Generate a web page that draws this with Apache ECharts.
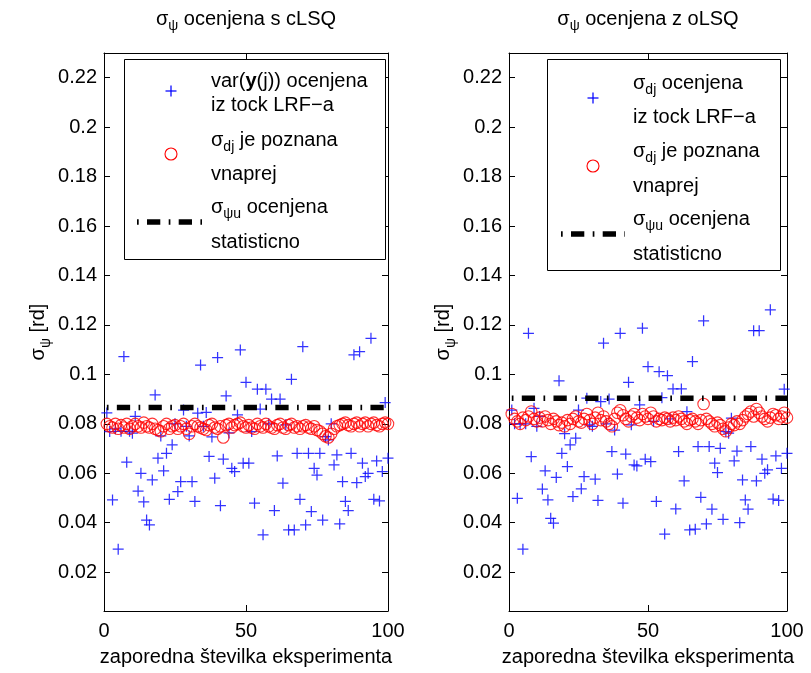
<!DOCTYPE html>
<html><head><meta charset="utf-8">
<script src="https://cdn.jsdelivr.net/npm/echarts@6/dist/echarts.min.js"></script>
<style>html,body{margin:0;padding:0;background:#fff}#c{width:811px;height:673px}</style>
</head><body><div id="c"></div>
<script>
const FONT = '"Liberation Sans", Arial, Helvetica, sans-serif';
const FS = 20;

const experiment = [1,2,3,4,5,6,7,8,9,10,11,12,13,14,15,16,17,18,19,20,
 21,22,23,24,25,26,27,28,29,30,31,32,33,34,35,36,37,38,39,40,
 41,42,43,44,45,46,47,48,49,50,51,52,53,54,55,56,57,58,59,60,
 61,62,63,64,65,66,67,68,69,70,71,72,73,74,75,76,77,78,79,80,
 81,82,83,84,85,86,87,88,89,90,91,92,93,94,95,96,97,98,99,100];
const xTicks = [0, 50, 100];
const yTicks = [0.02,0.04,0.06,0.08,0.1,0.12,0.14,0.16,0.18,0.2,0.22];

const blueLeft = [0.0844,0.0769,0.0492,0.0780,0.0293,0.0770,0.1072,0.0645,0.0770,0.0762,
 0.0830,0.0528,0.0600,0.0484,0.0411,0.0391,0.0573,0.0917,0.0661,0.0751,
 0.0610,0.0681,0.0495,0.0715,0.0800,0.0526,0.0566,0.0856,0.0790,0.0751,
 0.0566,0.0486,0.0843,0.1038,0.0790,0.0846,0.0668,0.0747,0.0580,0.1068,
 0.0469,0.0657,0.0913,0.0763,0.0620,0.0607,0.0836,0.1099,0.0641,0.0968,
 0.0641,0.0769,0.0479,0.0940,0.0860,0.0351,0.0940,0.0800,0.0900,0.0449,
 0.0670,0.0900,0.0560,0.0796,0.0371,0.0980,0.0371,0.0681,0.0495,0.1112,
 0.0391,0.0681,0.0445,0.0620,0.0593,0.0681,0.0411,0.0748,0.0735,0.0800,
 0.0634,0.0674,0.0395,0.0566,0.0486,0.0449,0.0681,0.1079,0.0562,0.1092,
 0.0641,0.0587,0.0600,0.1146,0.0495,0.0650,0.0488,0.0607,0.0886,0.0661];
const redLeft = [0.0800,0.0790,0.0785,0.0800,0.0780,0.0795,0.0785,0.0800,0.0780,0.0790,
 0.0800,0.0790,0.0785,0.0805,0.0790,0.0785,0.0800,0.0780,0.0775,0.0770,
 0.0790,0.0800,0.0780,0.0790,0.0795,0.0780,0.0790,0.0800,0.0780,0.0760,
 0.0790,0.0800,0.0790,0.0785,0.0780,0.0775,0.0795,0.0800,0.0785,0.0780,
 0.0790,0.0745,0.0795,0.0800,0.0785,0.0795,0.0800,0.0805,0.0790,0.0785,
 0.0795,0.0785,0.0780,0.0800,0.0790,0.0785,0.0800,0.0790,0.0785,0.0780,
 0.0795,0.0800,0.0785,0.0780,0.0795,0.0800,0.0785,0.0790,0.0780,0.0790,
 0.0795,0.0785,0.0780,0.0790,0.0775,0.0770,0.0760,0.0750,0.0745,0.0760,
 0.0780,0.0790,0.0795,0.0800,0.0805,0.0795,0.0790,0.0800,0.0805,0.0790,
 0.0800,0.0805,0.0790,0.0800,0.0805,0.0795,0.0790,0.0800,0.0805,0.0800];
const sigmaLeft = 0.0866;

const blueRight = [0.0856,0.0800,0.0499,0.0800,0.0293,0.0800,0.1166,0.0667,0.0863,0.0790,
 0.0830,0.0536,0.0610,0.0492,0.0418,0.0398,0.0583,0.0974,0.0681,0.0760,
 0.0627,0.0715,0.0506,0.0742,0.0856,0.0537,0.0587,0.0904,0.0796,0.0790,
 0.0576,0.0490,0.0890,0.1126,0.0800,0.0900,0.0688,0.0775,0.0597,0.1166,
 0.0479,0.0678,0.0968,0.0796,0.0634,0.0630,0.0877,0.1187,0.0657,0.1031,
 0.0647,0.0810,0.0486,0.1011,0.0906,0.0354,0.0995,0.0820,0.0941,0.0456,
 0.0688,0.0941,0.0569,0.0849,0.0371,0.1052,0.0374,0.0708,0.0503,0.1217,
 0.0395,0.0708,0.0455,0.0641,0.0603,0.0701,0.0414,0.0769,0.0762,0.0823,
 0.0650,0.0690,0.0400,0.0573,0.0492,0.0455,0.0708,0.1177,0.0569,0.1177,
 0.0657,0.0600,0.0614,0.1261,0.0496,0.0670,0.0490,0.0620,0.0940,0.0681];
const redRight = [0.0840,0.0820,0.0810,0.0800,0.0825,0.0815,0.0830,0.0850,0.0820,0.0810,
 0.0825,0.0810,0.0830,0.0815,0.0800,0.0820,0.0810,0.0795,0.0805,0.0790,
 0.0815,0.0800,0.0820,0.0830,0.0810,0.0805,0.0820,0.0840,0.0815,0.0800,
 0.0825,0.0845,0.0815,0.0830,0.0810,0.0800,0.0790,0.0820,0.0845,0.0855,
 0.0835,0.0820,0.0810,0.0830,0.0840,0.0825,0.0815,0.0840,0.0830,0.0820,
 0.0845,0.0830,0.0810,0.0820,0.0815,0.0825,0.0820,0.0810,0.0825,0.0815,
 0.0830,0.0820,0.0810,0.0800,0.0815,0.0820,0.0810,0.0800,0.0815,0.0880,
 0.0820,0.0810,0.0800,0.0790,0.0805,0.0795,0.0780,0.0770,0.0785,0.0800,
 0.0795,0.0810,0.0800,0.0815,0.0830,0.0840,0.0850,0.0830,0.0860,0.0845,
 0.0830,0.0820,0.0810,0.0825,0.0840,0.0835,0.0820,0.0830,0.0845,0.0825];
const sigmaRight = 0.0904;

const CROSS = 'path://M0,5L10,5M5,0L5,10';
const DASHDOT = [1.7, 8.3, 13.3, 8.4];

function pairs(ys) { return ys.map((v, i) => [experiment[i], v]); }

const chart = echarts.init(document.getElementById('c'), null, {renderer: 'canvas'});

const axisLineStyle = {lineStyle: {color: '#000', width: 1}};
const labelStyle = {color: '#000', fontSize: FS, fontFamily: FONT};
const subRich = {
  n: {fontSize: FS, fontFamily: FONT, color: '#000'},
  s: {fontSize: 14, fontFamily: FONT, color: '#000', padding: [15, 0, 0, 0]}
};

function xAxes(grid) {
  return [
    {gridIndex: grid, type: 'value', min: xTicks[0], max: xTicks[2], interval: 50, position: 'bottom',
     axisLine: Object.assign({onZero: false}, axisLineStyle),
     axisTick: {inside: true, length: 6, lineStyle: {color: '#000'}},
     axisLabel: Object.assign({margin: 10}, labelStyle),
     splitLine: {show: false},
     name: 'zaporedna številka eksperimenta', nameLocation: 'middle', nameGap: 36,
     nameTextStyle: labelStyle},
    {gridIndex: grid, type: 'value', min: xTicks[0], max: xTicks[2], interval: 50, position: 'top',
     axisLine: Object.assign({onZero: false}, axisLineStyle),
     axisTick: {inside: true, length: 6, lineStyle: {color: '#000'}},
     axisLabel: {show: false}, splitLine: {show: false}}
  ];
}
function yAxes(grid) {
  return [
    {gridIndex: grid, type: 'value', min: 0.0043, max: 0.23, position: 'left',
     axisLine: Object.assign({onZero: false}, axisLineStyle),
     axisTick: {inside: true, length: 6, lineStyle: {color: '#000'}, customValues: yTicks},
     axisLabel: Object.assign({margin: 7, customValues: yTicks,
       formatter: v => String(+(+v).toFixed(2))}, labelStyle),
     splitLine: {show: false},
     name: '{n|σ}{s|ψ}{n| [rd]}', nameLocation: 'middle', nameGap: 51, nameRotate: 90,
     nameTextStyle: {rich: subRich}},
    {gridIndex: grid, type: 'value', min: 0.0043, max: 0.23, position: 'right',
     axisLine: Object.assign({onZero: false}, axisLineStyle),
     axisTick: {inside: true, length: 6, lineStyle: {color: '#000'}, customValues: yTicks},
     axisLabel: {show: false}, splitLine: {show: false}}
  ];
}

function seriesFor(xi, yi, blue, red, sigma) {
  return [
    {type: 'scatter', xAxisIndex: xi, yAxisIndex: yi, data: pairs(blue), symbol: CROSS, symbolSize: 11,
     itemStyle: {color: 'rgba(0,0,0,0)', borderColor: '#0000ff', borderWidth: 1.25}, silent: true, z: 2},
    {type: 'scatter', xAxisIndex: xi, yAxisIndex: yi, data: pairs(red), symbol: 'circle', symbolSize: 11.5,
     itemStyle: {color: 'rgba(0,0,0,0)', borderColor: '#ff0000', borderWidth: 1.1}, silent: true, z: 3},
    {type: 'line', xAxisIndex: xi, yAxisIndex: yi,
     data: [[experiment[0], sigma], [experiment[experiment.length - 1], sigma]],
     symbol: 'none', silent: true, z: 4,
     lineStyle: {color: '#000', width: 5.5, type: DASHDOT, cap: 'butt'}}
  ];
}

function txt(x, y, text, align) {
  return {type: 'text', x: x, y: y, z: 101, silent: true,
    style: {text: text, fill: '#000', fontSize: FS, fontFamily: FONT,
            align: align || 'left', verticalAlign: 'middle',
            rich: {
              n: {fontSize: FS, fontFamily: FONT, fill: '#000'},
              b: {fontSize: FS, fontFamily: FONT, fontWeight: 'bold', fill: '#000'},
              s: {fontSize: 14, fontFamily: FONT, fill: '#000', padding: [15, 0, 0, 0]}
            }}};
}
function legendBox(b) {
  const els = [];
  els.push({type: 'rect', z: 100, silent: true, shape: {x: b.x, y: b.y, width: b.w, height: b.h},
            style: {fill: '#fff', stroke: '#000', lineWidth: 1}});
  const cx = b.mx, cy = b.crossY;
  els.push({type: 'line', z: 101, silent: true, shape: {x1: cx - 5.5, y1: cy, x2: cx + 5.5, y2: cy}, style: {stroke: '#0000ff', lineWidth: 1.25}});
  els.push({type: 'line', z: 101, silent: true, shape: {x1: cx, y1: cy - 5.5, x2: cx, y2: cy + 5.5}, style: {stroke: '#0000ff', lineWidth: 1.25}});
  els.push({type: 'circle', z: 101, silent: true, shape: {cx: b.mx, cy: b.circY, r: 6}, style: {fill: 'none', stroke: '#ff0000', lineWidth: 1.1}});
  els.push({type: 'line', z: 101, silent: true, shape: {x1: b.lx1, y1: b.lineY, x2: b.lx2, y2: b.lineY},
            style: {stroke: '#000', lineWidth: 5.5, lineDash: DASHDOT, lineCap: 'butt'}});
  b.lines.forEach(l => els.push(txt(b.tx, l[0], l[1])));
  return els;
}

const graphics = [].concat(
  [txt(246, 19, '{n|σ}{s|ψ}{n| ocenjena s cLSQ}', 'center'),
   txt(648, 19, '{n|σ}{s|ψ}{n| ocenjena z oLSQ}', 'center')],
  legendBox({x: 124.5, y: 59.5, w: 261, h: 200, mx: 171, crossY: 91, circY: 154, lineY: 222, lx1: 137, lx2: 202, tx: 211,
    lines: [[81, '{n|var(}{b|y}{n|(j)) ocenjena}'], [105, 'iz tock LRF−a'],
            [140, '{n|σ}{s|dj}{n| je poznana}'], [174, 'vnaprej'],
            [207, '{n|σ}{s|ψu}{n| ocenjena}'], [242, 'statisticno']]}),
  legendBox({x: 547.5, y: 59.5, w: 233, h: 211, mx: 593, crossY: 98, circY: 166, lineY: 234, lx1: 561, lx2: 625, tx: 633,
    lines: [[83, '{n|σ}{s|dj}{n| ocenjena}'], [117, 'iz tock LRF−a'],
            [151, '{n|σ}{s|dj}{n| je poznana}'], [186, 'vnaprej'],
            [219, '{n|σ}{s|ψu}{n| ocenjena}'], [254, 'statisticno']]})
);

chart.setOption({
  animation: false,
  backgroundColor: '#fff',
  textStyle: {fontFamily: FONT},
  grid: [
    {left: 104, top: 53, width: 284, height: 558},
    {left: 509, top: 53, width: 278, height: 558}
  ],
  xAxis: xAxes(0).concat(xAxes(1)),
  yAxis: yAxes(0).concat(yAxes(1)),
  series: seriesFor(0, 0, blueLeft, redLeft, sigmaLeft).concat(seriesFor(2, 2, blueRight, redRight, sigmaRight)),
  graphic: {elements: graphics}
});
</script></body></html>
